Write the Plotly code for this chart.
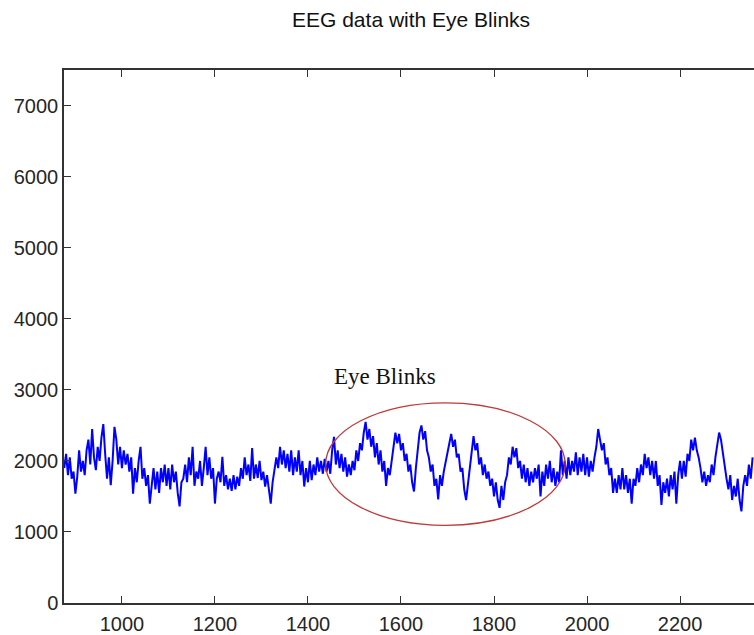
import plotly.graph_objects as go

# EEG samples, recorded every 4 sample indices starting at index 876
first_sample = 876
sample_step = 4

seg_876_1128 = [1900, 2100, 1800, 2050, 1750, 1850, 1540, 1780, 2150, 1850,
                2000, 1800, 2150, 2300, 1950, 2450, 2050, 1870, 2200, 2000,
                2330, 2520, 2100, 1750, 2050, 1660, 2000, 2480, 2300, 1950,
                2200, 1900, 2150, 1950, 2100, 1850, 2050, 1540, 1900, 1700,
                2000, 2200, 1750, 1900, 1650, 1800, 1400, 1650, 1900, 1600,
                1850, 1550, 1900, 1700, 1950, 1650, 1900, 1600, 1950, 1700,
                1850, 1550, 1360, 1700]
seg_1132_1380 = [1750, 1950, 1700, 2050, 1800, 2200, 1650, 1850, 1750, 2000,
                 1650, 1900, 2200, 1800, 2050, 1750, 1900, 1400, 1750, 1850,
                 1700, 2060, 1650, 1800, 1600, 1750, 1580, 1800, 1600, 1780,
                 1650, 1900, 1750, 2050, 1800, 1950, 1720, 2180, 1750, 1950,
                 1760, 2000, 1730, 1850, 1640, 1800, 1550, 1400, 1700, 1900,
                 2050, 1900, 2200, 1950, 2150, 1900, 2100, 1850, 2150, 1800,
                 2050, 1850, 2150]
seg_1384_1632 = [1800, 2000, 1640, 1900, 1700, 2000, 1730, 1950, 1800, 2050,
                 1850, 2000, 1820, 2030, 1850, 2000, 1820, 2150, 2340, 1950,
                 2150, 1900, 2100, 1850, 2050, 1780, 1950, 1800, 2000, 1870,
                 2150, 2000, 2250, 2150, 2400, 2550, 2300, 2450, 2200, 2350,
                 2050, 2250, 1950, 2150, 1850, 2000, 1650, 1900, 1800, 2000,
                 2200, 2400, 2250, 2380, 2150, 2250, 2000, 2100, 1850, 1950,
                 1700, 1570, 1900]
seg_1636_1888 = [2200, 2400, 2500, 2300, 2420, 2150, 2050, 1850, 1950, 1650,
                 1750, 1460, 1800, 1650, 1850, 2000, 2150, 2250, 2380, 2200,
                 2300, 2050, 2100, 1850, 1900, 1600, 1450, 1700, 1950, 2200,
                 2350, 2150, 2250, 1950, 2050, 1800, 1950, 1750, 1850, 1650,
                 1750, 1500, 1700, 1450, 1340, 1650, 1450, 1700, 1800, 2050,
                 1950, 2200, 2050, 2180, 1900, 2000, 1750, 1950, 1700, 1900,
                 1650, 1850, 1700, 1900]
seg_1892_2140 = [1750, 1950, 1500, 1850, 1650, 1950, 1750, 2000, 1700, 1900,
                 1650, 1850, 1700, 2150, 1800, 2000, 1750, 2050, 1800, 2000,
                 1850, 2120, 1800, 2050, 1850, 2100, 1800, 2050, 1780, 2000,
                 1850, 2050, 2200, 2450, 2300, 2150, 2250, 1950, 2050, 1800,
                 1900, 1550, 1750, 1550, 1800, 1600, 1900, 1600, 1800, 1550,
                 1750, 1400, 1750, 1650, 1900, 1700, 1950, 1800, 2100, 1900,
                 2050, 1800, 2000]
seg_2144_2356 = [1750, 2000, 1650, 1800, 1380, 1700, 1550, 1750, 1500, 1800,
                 1600, 1850, 1400, 1800, 2000, 1750, 2000, 1780, 2100, 2000,
                 2300, 2150, 2330, 2150, 2050, 1900, 1700, 1850, 1650, 1800,
                 1700, 1950, 1800, 2050, 2200, 2400, 2300, 2100, 1900, 1750,
                 1600, 1800, 1450, 1650, 1500, 1750, 1450, 1290, 1650, 1800,
                 1650, 1950, 1750, 2050]

eeg = (seg_876_1128 + seg_1132_1380 + seg_1384_1632 +
       seg_1636_1888 + seg_1892_2140 + seg_2144_2356)
samples = [first_sample + sample_step * i for i in range(len(eeg))]

# Region highlighted as containing eye blinks (sample index / amplitude bounds)
blink_x = [1438, 1953]
blink_y = [1094, 2819]
blink_label = "Eye Blinks"
blink_label_pos = (1566, 3184)

x_range = [875.5, 2359]
y_range = [0, 7505]
x_ticks = [1000, 1200, 1400, 1600, 1800, 2000, 2200]
y_ticks = [0, 1000, 2000, 3000, 4000, 5000, 6000, 7000]

fig = go.Figure()
fig.add_trace(go.Scatter(
    x=samples, y=eeg, mode="lines",
    line=dict(color="#0000FF", width=2),
    hoverinfo="skip", showlegend=False,
))

fig.add_shape(
    type="circle", xref="x", yref="y",
    x0=blink_x[0], x1=blink_x[1], y0=blink_y[0], y1=blink_y[1],
    line=dict(color="#C0393B", width=1.3), layer="above",
)
fig.add_annotation(
    x=blink_label_pos[0], y=blink_label_pos[1], text=blink_label,
    showarrow=False, xanchor="center", yanchor="middle",
    font=dict(family="Liberation Serif, Times New Roman, serif", size=23, color="#111111"),
)

axis_font = dict(family="Liberation Sans, Arial, sans-serif", size=20, color="#262626")
fig.update_layout(
    width=754, height=635,
    margin=dict(l=64, r=0, t=70, b=30),
    paper_bgcolor="white", plot_bgcolor="white",
    title=dict(
        text="EEG data with Eye Blinks",
        x=0.503, xref="paper", xanchor="center",
        y=1 - 20 / 635, yref="container", yanchor="middle",
        font=dict(family="Liberation Sans, Arial, sans-serif", size=21, color="#111111"),
    ),
    xaxis=dict(
        range=x_range, tickvals=x_ticks, ticktext=[str(v) for v in x_ticks],
        ticks="inside", ticklen=7, tickwidth=1.3, tickcolor="#333333",
        showline=True, linecolor="#333333", linewidth=1.5, mirror="ticks",
        showgrid=False, zeroline=False, tickfont=axis_font,
        ticklabelstandoff=2,
    ),
    yaxis=dict(
        range=y_range, tickvals=y_ticks, ticktext=[str(v) for v in y_ticks],
        ticks="inside", ticklen=7, tickwidth=1.3, tickcolor="#333333",
        showline=True, linecolor="#333333", linewidth=1.5, mirror=False,
        showgrid=False, zeroline=False, tickfont=axis_font,
    ),
)

fig.write_html("out.html", config={"displayModeBar": False})
